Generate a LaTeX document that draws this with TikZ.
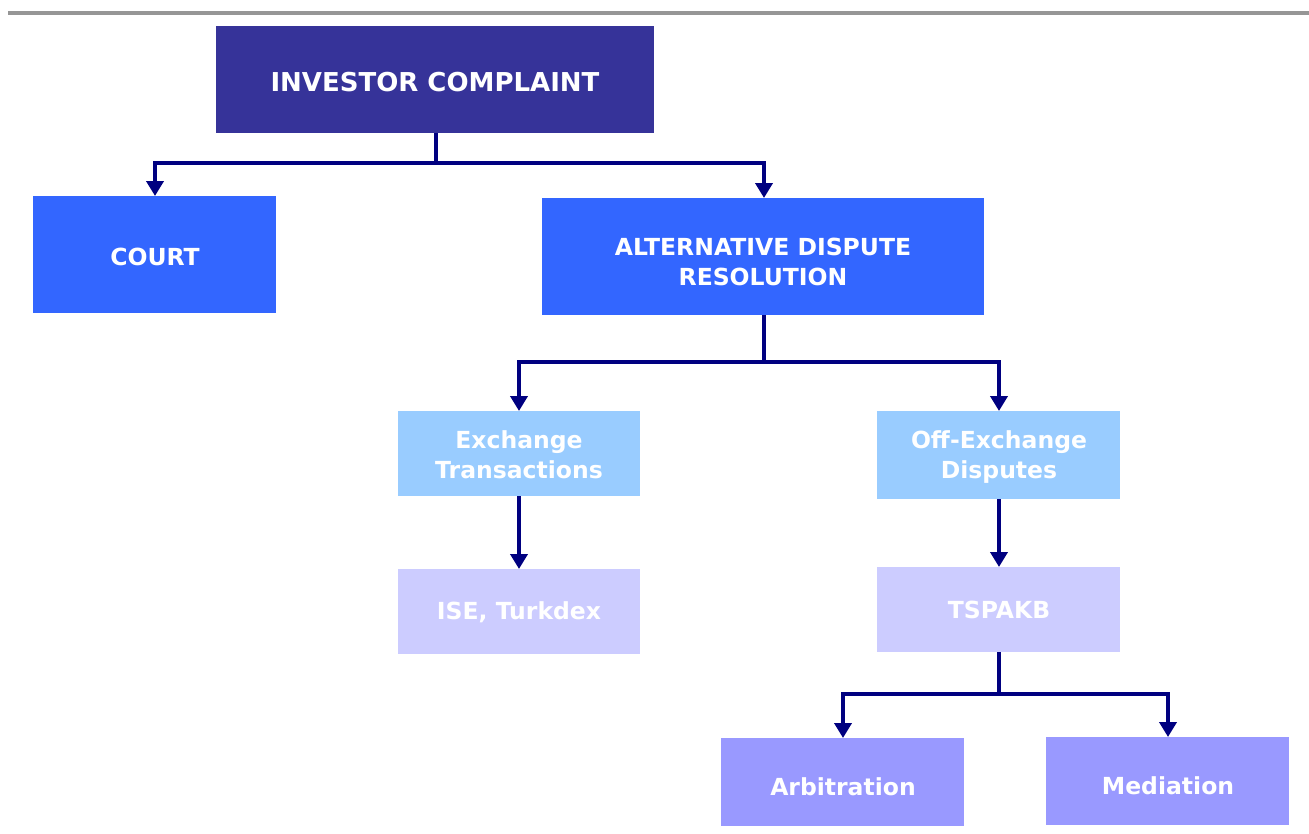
\documentclass[tikz,border=0pt]{standalone}
\usepackage{fontspec}
\setmainfont{DejaVu Sans}
\usetikzlibrary{arrows.meta}
\definecolor{darkb}{HTML}{363399}
\definecolor{midb}{HTML}{3366FF}
\definecolor{lightb}{HTML}{99CCFF}
\definecolor{paleb}{HTML}{CCCCFF}
\definecolor{lavb}{HTML}{9999FF}
\definecolor{navy}{HTML}{000080}
\definecolor{rule}{HTML}{969696}
\tikzset{
  lbl/.style={text=white, font=\bfseries\fontsize{23.5}{30}\selectfont, align=center, inner sep=0pt},
  biglbl/.style={lbl, font=\bfseries\fontsize{26}{30}\selectfont},
  conn/.style={draw=navy, line width=4pt, -{Triangle[length=15pt,width=17pt]}},
  seg/.style={draw=navy, line width=4pt}
}
\begin{document}
\begin{tikzpicture}[x=1pt,y=-1pt]
\useasboundingbox (0,0) rectangle (1309,833);
\draw[rule, line width=4pt] (8,13) -- (1309,13);
% boxes
\fill[darkb] (216,26) rectangle (654,133);
\fill[midb] (33,196) rectangle (276,313);
\fill[midb] (542,198) rectangle (984,315);
\fill[lightb] (398,411) rectangle (640,496);
\fill[lightb] (877,411) rectangle (1120,499);
\fill[paleb] (398,569) rectangle (640,654);
\fill[paleb] (877,567) rectangle (1120,652);
\fill[lavb] (721,738) rectangle (964,826);
\fill[lavb] (1046,737) rectangle (1289,825);
% labels
\node[biglbl] (ic) at (435,82) {INVESTOR COMPLAINT};
\node[lbl] (court) at (155,257) {COURT};
\node[lbl] (adr) at (763,262) {ALTERNATIVE DISPUTE\\RESOLUTION};
\node[lbl] (ex) at (519,455) {Exchange\\Transactions};
\node[lbl] (off) at (999,457) {Off-Exchange\\Disputes};
\node[lbl] (ise) at (519,612) {ISE, Turkdex};
\node[lbl] (tsp) at (999,610) {TSPAKB};
\node[lbl] (arb) at (843,787) {Arbitration};
\node[lbl] (med) at (1168,786) {Mediation};
% anchor coordinates
\coordinate (icb) at (436,133);
\coordinate (j1) at (436,163);
\coordinate (courtt) at (155,196);
\coordinate (adrt) at (764,198);
\coordinate (adrb) at (764,315);
\coordinate (j2) at (764,362);
\coordinate (ext) at (519,411);
\coordinate (offt) at (999,411);
\coordinate (exb) at (519,496);
\coordinate (iset) at (519,569);
\coordinate (offb) at (999,499);
\coordinate (tspt) at (999,567);
\coordinate (tspb) at (999,652);
\coordinate (j3) at (999,694);
\coordinate (arbt) at (843,738);
\coordinate (medt) at (1168,737);
% connectors
\draw[seg] (icb) -- (j1);
\draw[conn] (j1) -| (courtt);
\draw[conn] (j1) -| (adrt);
\draw[seg] (adrb) -- (j2);
\draw[conn] (j2) -| (ext);
\draw[conn] (j2) -| (offt);
\draw[conn] (exb) -- (iset);
\draw[conn] (offb) -- (tspt);
\draw[seg] (tspb) -- (j3);
\draw[conn] (j3) -| (arbt);
\draw[conn] (j3) -| (medt);
\end{tikzpicture}
\end{document}
